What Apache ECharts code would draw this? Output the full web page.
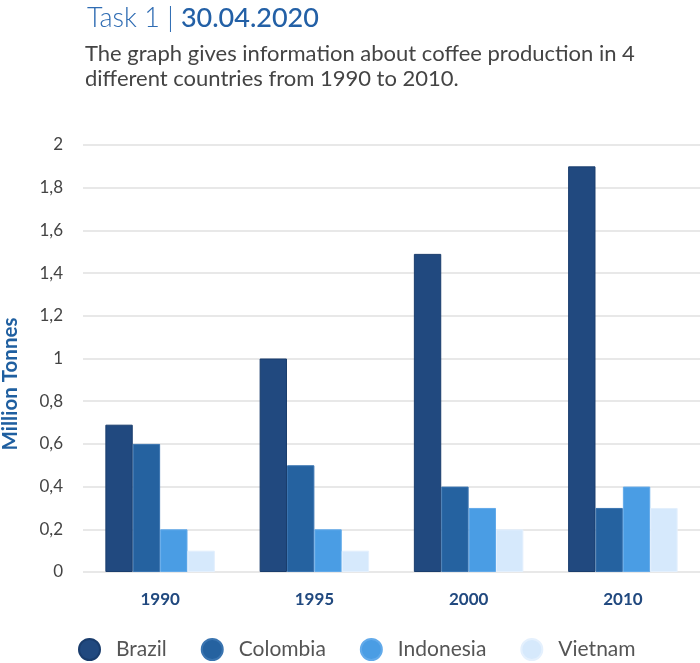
<!DOCTYPE html>
<html><head><meta charset="utf-8">
<script src="https://cdn.jsdelivr.net/npm/echarts@6/dist/echarts.min.js"></script>
<style>html,body{margin:0;padding:0;background:#fff}#c{width:700px;height:663px}</style>
</head><body><div id="c"></div>
<script>
const categories = ['1990','1995','2000','2010'];
const brazil = [0.69, 1.0, 1.49, 1.9];
const colombia = [0.6, 0.5, 0.4, 0.3];
const indonesia = [0.2, 0.2, 0.3, 0.4];
const vietnam = [0.1, 0.1, 0.2, 0.3];
const seriesNames = ['Brazil','Colombia','Indonesia','Vietnam'];
const yAxisTitle = 'Million Tonnes';
const colors = ['#21497f','#2562a0','#4a9de4','#d6e9fc'];
const borders = ['#1a3d6d','#3a74b0','#62aaea','#e4f0fd'];
const font = 'Lato, "Open Sans", sans-serif';
const chart = echarts.init(document.getElementById('c'));
const data = [brazil, colombia, indonesia, vietnam];
chart.setOption({
  animation:false,
  color: colors,
  textStyle:{fontFamily:font},
  title:[{
    left:82, top:0,
    text:'{a|Task 1}{b| | }{c|30.04.2020}',
    textStyle:{rich:{
      a:{fontSize:27,fontWeight:300,color:'#2f6cb3',fontFamily:font},
      b:{fontSize:27,fontWeight:300,color:'#2f6cb3',fontFamily:font},
      c:{fontSize:27,fontWeight:500,color:'#2360a6',fontFamily:font}
    }}
  },{
    left:80, top:36,
    text:'The graph gives information about coffee production in 4\ndifferent countries from 1990 to 2010.',
    textStyle:{fontSize:22,fontWeight:400,color:'#444',lineHeight:25,fontFamily:font}
  }],
  legend:{
    bottom:2, left:78, icon:'circle', itemWidth:21, itemHeight:21, itemGap:34,
    padding:[0,0,0,0],
    data: seriesNames,
    textStyle:{fontSize:21,color:'#555',fontFamily:font,padding:[0,0,0,11]}
  },
  grid:{left:83,right:0,top:145,bottom:91,outerBoundsMode:'none',containLabel:false},
  xAxis:{
    type:'category', data:categories,
    axisLine:{show:false}, axisTick:{show:false},
    axisLabel:{margin:19,fontSize:17,fontWeight:'bold',color:'#21497f',fontFamily:font}
  },
  yAxis:{
    type:'value', min:0, max:2, interval:0.2,
    axisLabel:{margin:20,fontSize:17,color:'#444',fontFamily:font,
      formatter:v=>String(Math.round(v*10)/10).replace('.',',')},
    splitLine:{lineStyle:{color:'#e0e0e0',width:1.5}}
  },
  graphic:[{
    type:'text', x:10, y:384, rotation:Math.PI/2,
    style:{text:yAxisTitle, fontSize:20.5, fontWeight:'bold', fill:'#1f5fa0',
      fontFamily:font, align:'center', verticalAlign:'middle'}
  }],
  series: seriesNames.map((n,i)=>({
    name:n, type:'bar', data:data[i],
    barGap:'0%', barCategoryGap:'29%',
    itemStyle:{color:colors[i],borderColor:borders[i],borderWidth:1}
  }))
});
</script></body></html>
